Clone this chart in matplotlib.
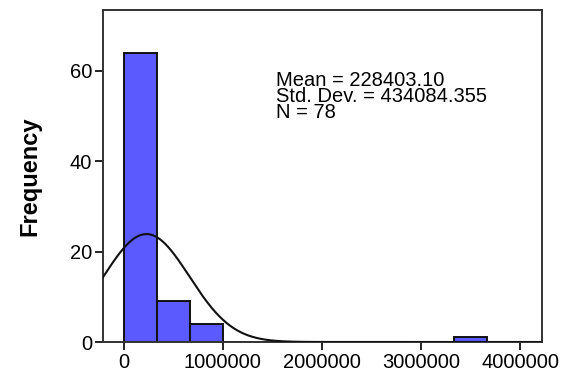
import numpy as np
import matplotlib.pyplot as plt

plt.rcParams['font.family'] = ['Liberation Sans', 'DejaVu Sans']

# histogram bins (width = 1/3 million) and counts
bin_edges = [0, 333333.33, 666666.67, 1000000, 1333333.33, 1666666.67,
             2000000, 2333333.33, 2666666.67, 3000000, 3333333.33, 3666666.67]
counts = [64, 9, 4, 0, 0, 0, 0, 0, 0, 0, 1]
mean = 228403.10
std = 434084.355
n = 78
xticks = [0, 1000000, 2000000, 3000000, 4000000]
yticks = [0, 20, 40, 60]

fig = plt.figure(figsize=(5.68, 3.71), dpi=100)
ax = fig.add_axes([103 / 568, 1 - 342 / 371, 439 / 568, 332 / 371])

lefts = np.array(bin_edges[:-1])
widths = np.diff(bin_edges)
ax.bar(lefts, counts, width=widths, align='edge', color='#5a5aff',
       edgecolor='#111111', linewidth=1.4, zorder=2)

# fitted normal curve scaled to counts
xs = np.linspace(-210000, 4220000, 600)
bw = widths[0]
pdf = np.exp(-0.5 * ((xs - mean) / std) ** 2) / (std * np.sqrt(2 * np.pi))
ax.plot(xs, n * bw * pdf, color='#111111', linewidth=1.5, zorder=3)

ax.set_xlim(-210000, 4220000)
ax.set_ylim(0, 73.5)
ax.set_xticks(xticks)
ax.set_xticklabels([str(v) for v in xticks])
ax.set_yticks(yticks)
ax.tick_params(direction='out', length=6, width=1.4, labelsize=14.5, pad=2,
               color='#222222')
for s in ax.spines.values():
    s.set_linewidth(1.4)
    s.set_color('#333333')

ax.set_ylabel('Frequency', fontsize=17, fontweight='bold', labelpad=20)

ax.text(0.394, 0.815,
        f'Mean = {mean:.2f}\nStd. Dev. = {std:.3f}\nN = {n}',
        transform=ax.transAxes, fontsize=14.5, va='top', ha='left',
        linespacing=0.78)

fig.savefig('out.png', dpi=100)
